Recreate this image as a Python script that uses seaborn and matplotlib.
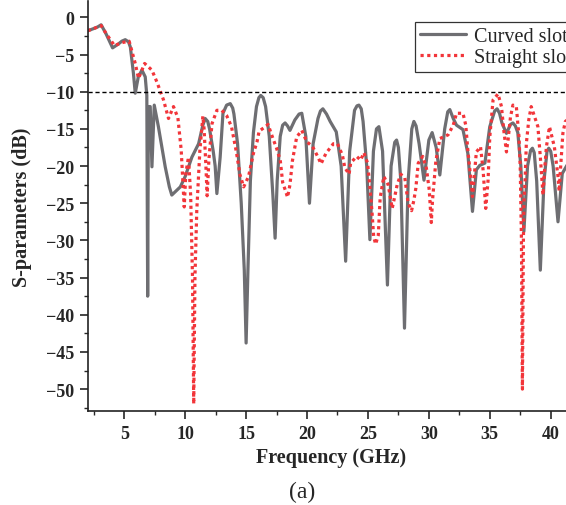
import numpy as np
import seaborn as sns
import matplotlib.pyplot as plt
from matplotlib.ticker import MultipleLocator

# Curved slot (grey solid)
curved_f = [2.0, 2.5, 2.8, 3.1, 3.5, 4.04, 4.5, 4.8, 5.08, 5.35, 5.5, 5.75, 5.9, 6.15, 6.45, 6.72, 6.85,
            6.92, 6.98, 7.13, 7.27, 7.46, 7.8, 8.36, 8.7, 8.9, 9.6, 10.0, 10.55, 11.1, 11.45, 11.64,
            11.85, 12.0, 12.3, 12.46, 12.6, 12.75, 12.87, 13.1, 13.4, 13.7, 13.9, 14.0, 14.3, 14.6,
            14.85, 15.0, 15.15, 15.35, 15.6, 15.85, 16.05, 16.2, 16.4, 16.6, 16.9, 17.2, 17.38, 17.55,
            17.8, 18.0, 18.2, 18.4, 18.6, 19.0, 19.35, 19.57, 19.9, 20.2, 20.5, 20.9, 21.1, 21.3, 21.6,
            21.9, 22.4, 22.8, 23.17, 23.5, 23.9, 24.1, 24.26, 24.45, 24.6, 24.9, 25.16, 25.45, 25.7,
            25.9, 26.2, 26.6, 26.9, 27.2, 27.35, 27.5, 27.7, 28.0, 28.3, 28.6, 28.77, 28.95, 29.2, 29.6,
            30.0, 30.27, 30.6, 30.9, 31.3, 31.55, 31.72, 32.0, 32.27, 32.8, 33.2, 33.58, 33.9, 34.18,
            34.6, 35.0, 35.4, 35.6, 35.8, 36.0, 36.37, 36.7, 36.9, 37.1, 37.3, 37.55, 37.8, 38.1,
            38.35, 38.5, 38.65, 38.85, 39.15, 39.45, 39.7, 39.84, 40.0, 40.2, 40.6, 40.95, 41.3, 42.0]
curved_db = [-1.8, -1.5, -1.3, -1.0, -2.2, -4.1, -3.6, -3.2, -3.0, -3.3, -4.0, -7.5, -10.2, -8.0,
             -7.1, -8.0, -10.5, -37.5, -12.0, -12.0, -20.1, -11.8, -14.7, -20.1, -22.8, -23.9,
             -22.8, -21.4, -18.8, -17.0, -14.5, -13.6, -14.0, -15.0, -18.0, -20.0, -23.7, -21.0,
             -18.8, -12.9, -11.8, -11.6, -12.2, -13.0, -17.0, -25.0, -34.0, -43.8, -34.0, -22.0,
             -15.5, -12.0, -10.8, -10.5, -10.8, -12.0, -16.0, -24.0, -29.7, -22.0, -16.0, -14.5,
             -14.2, -14.6, -15.2, -13.8, -13.0, -12.9, -16.0, -25.0, -17.0, -13.6, -12.6, -12.3,
             -13.0, -14.0, -15.4, -20.0, -32.8, -18.0, -12.5, -11.9, -11.8, -12.3, -14.0, -20.0,
             -29.9, -18.0, -15.0, -14.7, -18.0, -36.0, -20.0, -16.8, -16.5, -17.5, -22.0, -41.8,
             -22.0, -15.0, -14.0, -14.6, -17.0, -21.9, -16.5, -15.5, -17.5, -21.2, -15.0, -12.7,
             -12.4, -13.6, -14.5, -15.1, -18.3, -26.1, -20.5, -19.9, -19.6, -14.7, -12.6, -12.3,
             -12.9, -14.2, -15.6, -14.4, -14.2, -14.6, -15.5, -20.0, -28.8, -20.0, -17.9, -17.6,
             -18.2, -22.0, -34.0, -22.0, -18.0, -17.6, -18.0, -20.0, -27.5, -21.0, -20.0, -18.0]

# Straight slot (red dotted)
straight_f = [2.0, 2.5, 3.1, 3.6, 4.2, 4.8, 5.4, 5.9, 6.17, 6.67, 7.27, 7.68, 8.22, 8.63, 9.04, 9.4,
              9.67, 9.92, 10.05, 10.27, 10.45, 10.6, 10.7, 10.8, 10.95, 11.2, 11.45, 11.55, 11.7,
              11.8, 11.95, 12.2, 12.6, 13.0, 13.4, 13.8, 14.2, 14.5, 14.8, 15.2, 15.6, 15.9, 16.07,
              16.5, 16.8, 17.16, 17.5, 17.8, 18.0, 18.25, 18.4, 18.6, 18.8, 19.15, 19.57, 19.97,
              20.46, 20.9, 21.15, 21.55, 22.16, 22.5, 22.9, 23.1, 23.45, 23.58, 24.07, 24.4, 24.67,
              24.97, 25.16, 25.33, 25.47, 25.63, 25.85, 26.0, 26.3, 26.66, 26.99, 27.2, 27.4, 27.7,
              28.03, 28.3, 28.58, 28.77, 28.93, 29.13, 29.5, 29.8, 30.03, 30.2, 30.3, 30.57, 30.9,
              31.58, 32.0, 32.27, 32.8, 33.03, 33.2, 33.4, 33.58, 33.7, 33.9, 34.24, 34.45, 34.67,
              34.86, 35.0, 35.27, 35.68, 35.96, 36.15, 36.37, 36.5, 36.7, 36.9, 37.18, 37.4, 37.5,
              37.6, 37.68, 37.76, 37.8, 37.9, 38.0, 38.2, 38.4, 38.95, 39.15, 39.37, 39.5, 39.65,
              39.9, 40.3, 40.6, 40.7, 40.8, 41.0, 41.2, 42.0]
straight_db = [-1.8, -1.5, -1.1, -2.4, -3.8, -3.4, -3.2, -6.2, -8.2, -6.2, -7.1, -8.7, -11.1,
               -13.6, -12.0, -13.5, -17.8, -25.5, -21.0, -18.8, -24.0, -35.0, -52.0, -35.0, -26.0,
               -18.0, -13.3, -15.0, -20.0, -24.0, -19.0, -14.3, -12.5, -12.5, -13.2, -14.7, -18.1,
               -21.2, -22.8, -21.4, -18.3, -16.7, -15.3, -14.8, -14.4, -16.1, -17.6, -19.2, -22.2,
               -23.4, -24.2, -22.5, -19.3, -16.1, -15.2, -16.7, -17.4, -18.8, -19.7, -18.3, -17.0,
               -17.0, -18.5, -20.2, -21.1, -19.6, -18.7, -19.2, -18.2, -19.6, -22.8, -26.1, -29.5,
               -30.5, -29.3, -24.3, -21.4, -22.5, -25.7, -24.1, -22.5, -21.1, -21.6, -25.0, -26.0,
               -24.6, -23.0, -19.6, -18.7, -20.3, -23.2, -27.6, -24.6, -19.4, -16.3, -15.8, -14.5,
               -12.9, -12.9, -14.5, -17.9, -21.0, -24.1, -21.9, -18.1, -17.4, -20.5, -25.7, -21.9,
               -16.1, -11.1, -10.3, -12.0, -15.2, -18.1, -16.5, -13.4, -11.8, -12.0, -16.1, -20.1,
               -30.0, -50.0, -30.0, -25.0, -21.9, -17.0, -13.8, -12.0, -14.7, -18.8, -23.9, -20.5,
               -17.4, -14.7, -17.4, -21.4, -23.4, -20.5, -15.6, -14.0, -13.0]

sns.set_style('ticks')
plt.rcParams['font.family'] = ['Liberation Serif', 'DejaVu Serif']

fig = plt.figure(figsize=(5.66, 5.06), dpi=100)
ax = fig.add_axes([0.155, 0.185, 0.861, 0.811])

sns.lineplot(x=curved_f, y=curved_db, ax=ax, color='#6e6e72', linewidth=2.3,
             sort=False, estimator=None, label='Curved slot')
sns.lineplot(x=straight_f, y=straight_db, ax=ax, color='#f2353a', linewidth=2.3,
             sort=False, estimator=None, label='Straight slot', linestyle=(0, (1, 1.1)))

ax.axhline(-10, color='black', linewidth=1.0, linestyle=(0, (3, 2)))

ax.set_xlim(2, 42)
ax.set_ylim(-53, 2.2)
ax.xaxis.set_minor_locator(MultipleLocator(2.5))
ax.yaxis.set_minor_locator(MultipleLocator(2.5))
ax.set_xticks([5, 10, 15, 20, 25, 30, 35, 40])
ax.set_yticks([0, -5, -10, -15, -20, -25, -30, -35, -40, -45, -50])

ax.tick_params(axis='both', which='major', direction='out', length=6, width=1.2,
               labelsize=13)
ax.tick_params(axis='both', which='minor', direction='out', length=3, width=1.0)
for lab in ax.get_xticklabels() + ax.get_yticklabels():
    lab.set_fontweight('bold')

for s in ['top', 'right']:
    ax.spines[s].set_visible(False)
for s in ['left', 'bottom']:
    ax.spines[s].set_linewidth(1.2)
    ax.spines[s].set_color('#222222')

ax.set_xlabel('Frequency (GHz)', fontsize=14.5, fontweight='bold', labelpad=4)
ax.set_ylabel('S-parameters (dB)', fontsize=14.5, fontweight='bold', labelpad=10)

leg = ax.legend(loc='upper left', bbox_to_anchor=(415 / 566, 1 - 23 / 506),
                bbox_transform=fig.transFigure, fontsize=14.5, frameon=True,
                fancybox=False, handlelength=2.3, borderpad=0.25, labelspacing=0.1,
                handletextpad=0.4, borderaxespad=0)
leg.get_frame().set_edgecolor('black')
leg.get_frame().set_linewidth(0.9)

fig.text(302 / 566, 1 - 492 / 506, '(a)', ha='center', va='center', fontsize=17)

fig.savefig('out.png', dpi=100)
